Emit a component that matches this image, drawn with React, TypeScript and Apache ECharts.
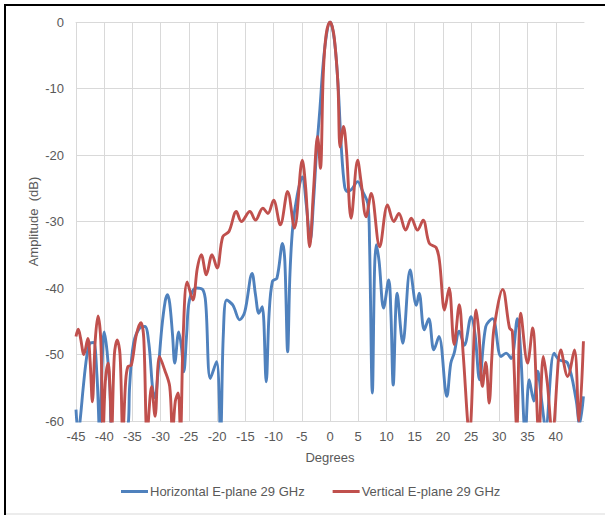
import React, { useEffect, useRef } from "react";
import * as echarts from "echarts";

const xTicks = [-45, -40, -35, -30, -25, -20, -15, -10, -5, 0, 5, 10, 15, 20, 25, 30, 35, 40, 45];
const yTicks = [-60, -50, -40, -30, -20, -10, 0];
const seriesNames = ["Horizontal E-plane 29 GHz", "Vertical E-plane 29 GHz"];

const horizontal: [number, number][] = [
  [-45, -58.3], [-44.6, -62], [-44.2, -59.3], [-43.7, -54.8], [-43.1, -50.3], [-42.6, -48.4],
  [-41.9, -48.2], [-41.3, -53], [-40.8, -62], [-40.4, -52], [-40, -46.6], [-39.5, -49.5],
  [-39, -55], [-38.6, -63], [-37.2, -64], [-35.8, -61], [-35.5, -54.8], [-34.8, -48.3],
  [-33.7, -46], [-32.8, -45.8], [-32.1, -48.3], [-31.4, -55.3], [-31, -56.5], [-30.5, -53],
  [-29.8, -46], [-29.2, -42], [-28.8, -41], [-28.4, -42.3], [-27.9, -47], [-27.5, -51.3],
  [-26.8, -46.6], [-26.3, -49], [-25.9, -52.6], [-25.4, -47], [-24.9, -41.8], [-23.7, -40],
  [-22.5, -40.3], [-22, -42.5], [-21.2, -53.6], [-20.1, -51.1], [-19.4, -62], [-18.9, -47],
  [-18.3, -41.8], [-17.2, -42.6], [-16, -44.8], [-15.1, -43.6], [-13.8, -37.8], [-13.2, -41],
  [-12.6, -43.8], [-12, -42.8], [-11.3, -54.1], [-10.8, -44], [-10.2, -39], [-9.4, -38.5],
  [-8.4, -33.3], [-8, -36], [-7.5, -49.6], [-7.1, -38], [-6.6, -30.8], [-5.8, -26],
  [-4.9, -23.3], [-4.2, -27.5], [-3.5, -32.8], [-2.9, -26.7], [-2.4, -19.7], [-1.8, -13.2],
  [-1.2, -6.2], [-0.6, -1.8], [0, 0], [0.5, -1.2], [1, -4.5], [1.5, -10.5], [2, -18.8],
  [2.6, -24.8], [3.1, -25.5], [3.8, -25.2], [4.9, -24], [5.8, -25.5], [6.7, -27.3], [7, -33],
  [7.5, -55.8], [7.9, -37], [8.2, -33.5], [8.7, -36], [9.5, -43], [10.4, -38.8], [10.8, -44],
  [11.2, -54.6], [11.9, -40.8], [12.9, -48.3], [14.2, -37.3], [15.3, -42.6], [15.8, -40.8],
  [16.7, -46.3], [17.5, -44.6], [18.4, -49.3], [19.3, -47.3], [20.7, -56.3], [21.4, -51.3],
  [22, -49.8], [22.9, -46.5], [23.8, -48.6], [25, -44.3], [25.7, -47], [26.5, -53.8],
  [27.6, -45.8], [28.8, -44.6], [30.3, -50.3], [31.2, -49.8], [32.1, -50.6], [33.2, -44.6],
  [33.8, -50], [34.6, -62], [35.3, -53.8], [36.1, -57], [36.8, -52.5], [37.5, -57],
  [38.2, -61], [39.7, -49.8], [40.6, -50.8], [42.1, -51.3], [43.6, -56.8], [44.2, -60.5],
  [44.9, -56.3],
];

const vertical: [number, number][] = [
  [-45, -47.3], [-44.6, -46.2], [-44.2, -47.5], [-43.6, -50], [-42.9, -47.6], [-42.5, -51],
  [-42.1, -57.1], [-41.6, -48], [-41.1, -44.2], [-40.6, -48], [-40.2, -62], [-39.8, -54],
  [-39.3, -51.3], [-38.9, -57], [-38.7, -62], [-38.2, -50], [-37.7, -47.8], [-37.2, -50],
  [-36.7, -62], [-36.2, -54], [-35.8, -51.8], [-35.2, -51.6], [-34.3, -47], [-33.5, -45.2],
  [-33, -47.5], [-32.4, -62], [-31.6, -54.8], [-31, -59.3], [-30.2, -50.3], [-29.3, -52.3],
  [-28.4, -54.8], [-27.9, -62], [-27.4, -57], [-26.9, -55.8], [-26.5, -62], [-26, -47],
  [-25.3, -39.1], [-24.3, -41.8], [-23.5, -37], [-22.8, -35], [-21.9, -38], [-20.9, -35],
  [-20, -37], [-19, -32.3], [-17.9, -31.5], [-16.6, -28.5], [-15.7, -30], [-14.2, -28.5],
  [-13.2, -29.8], [-11.9, -28], [-11, -28.8], [-10, -26.8], [-8.8, -30.5], [-7.5, -25.5],
  [-6.3, -31], [-4.9, -20.8], [-4.3, -25], [-3.6, -33.8], [-2.9, -25], [-2.2, -17.2],
  [-1.7, -22], [-1.2, -8], [-0.7, -2], [0, 0], [0.4, -0.7], [0.8, -2.7], [1.4, -9.2],
  [1.8, -18.8], [2.4, -15.7], [2.9, -19.2], [3.75, -29.5], [4.9, -20.8], [5.5, -24],
  [6.4, -29.3], [7.3, -25.8], [8.8, -33.8], [10.2, -27.5], [11.3, -30], [12.2, -28.8],
  [13.4, -31.3], [14.4, -29.5], [15.5, -31.3], [16.5, -29.8], [17.6, -33.3], [18.8, -33.9],
  [19.4, -36], [20.3, -43.3], [21.1, -40], [22, -48.5], [22.9, -42.5], [23.6, -50],
  [24.7, -62], [25.9, -43.3], [26.4, -47], [27, -54.8], [27.6, -51.2], [28.2, -57.3],
  [28.7, -50], [29.1, -45.8], [30.6, -40.2], [31.8, -46], [32.3, -46.5], [33.1, -61],
  [33.8, -43.8], [35, -51.3], [35.9, -46], [37, -62], [37.8, -50.3], [38.5, -54.3],
  [39.4, -62], [40.9, -49.3], [42.1, -53.3], [43.3, -49.3], [44.1, -60], [44.9, -48],
];

const FONT = "'Liberation Sans', Arial, sans-serif";
const TEXT = "#595959";
const GRID = "#d9d9d9";

export default function App() {
  const ref = useRef<HTMLDivElement>(null);
  useEffect(() => {
    if (!ref.current) return;
    const chart = echarts.init(ref.current, undefined, { renderer: "svg" });
    const xSplitColors = xTicks.map((t) => (t === 45 ? "rgba(0,0,0,0)" : GRID));
    chart.setOption({
      animation: false,
      backgroundColor: "#ffffff",
      textStyle: { fontFamily: FONT },
      grid: { left: 76, right: 21, top: 22, bottom: 94, containLabel: false },
      xAxis: {
        type: "value",
        min: xTicks[0],
        max: xTicks[xTicks.length - 1],
        interval: 5,
        name: "Degrees",
        nameLocation: "middle",
        nameGap: 30,
        nameTextStyle: { color: TEXT, fontSize: 13, fontFamily: FONT },
        axisLine: { show: true, lineStyle: { color: GRID, width: 1 } },
        axisTick: { show: false },
        axisLabel: {
          color: TEXT,
          fontSize: 13,
          fontFamily: FONT,
          margin: 9,
          formatter: (v: number) => (v === 45 ? "" : String(v)),
        },
        splitLine: { show: true, lineStyle: { color: xSplitColors, width: 1 } },
      },
      yAxis: {
        type: "value",
        min: yTicks[0],
        max: yTicks[yTicks.length - 1],
        interval: 10,
        name: "Amplitude  (dB)",
        nameLocation: "middle",
        nameGap: 36,
        nameMoveOverlap: false,
        nameRotate: 90,
        nameTextStyle: { color: TEXT, fontSize: 13, fontFamily: FONT },
        axisLine: { show: false },
        axisTick: { show: false },
        axisLabel: { color: TEXT, fontSize: 13, fontFamily: FONT, margin: 12 },
        splitLine: { show: true, lineStyle: { color: GRID, width: 1 } },
      },
      legend: {
        left: 116,
        top: 480,
        icon: "rect",
        itemWidth: 27,
        itemHeight: 3,
        itemGap: 28,
        textStyle: { color: TEXT, fontSize: 13, fontFamily: FONT, padding: [0, 0, 0, -3] },
        data: seriesNames,
      },
      series: [
        {
          name: seriesNames[0],
          type: "line",
          data: horizontal,
          smooth: 0.35,
          showSymbol: false,
          symbol: "none",
          clip: true,
          lineStyle: { color: "#4F81BD", width: 2.9 },
          itemStyle: { color: "#4F81BD" },
          z: 2,
        },
        {
          name: seriesNames[1],
          type: "line",
          data: vertical,
          smooth: 0.35,
          showSymbol: false,
          symbol: "none",
          clip: true,
          lineStyle: { color: "#C0504D", width: 2.9 },
          itemStyle: { color: "#C0504D" },
          z: 3,
        },
      ],
      graphic: [
        { type: "line", shape: { x1: 5, y1: 4, x2: 5, y2: 515 }, style: { stroke: "#000", lineWidth: 2 } },
        { type: "line", shape: { x1: 4, y1: 5, x2: 605, y2: 5 }, style: { stroke: "#000", lineWidth: 2 } },
        { type: "line", shape: { x1: 6, y1: 514, x2: 605, y2: 514 }, style: { stroke: "#d9d9d9", lineWidth: 1 } },
      ],
    });
    return () => chart.dispose();
  }, []);
  return (
    <div
      ref={ref}
      style={{ position: "fixed", left: 0, top: 0, width: 605, height: 515 }}
    />
  );
}
